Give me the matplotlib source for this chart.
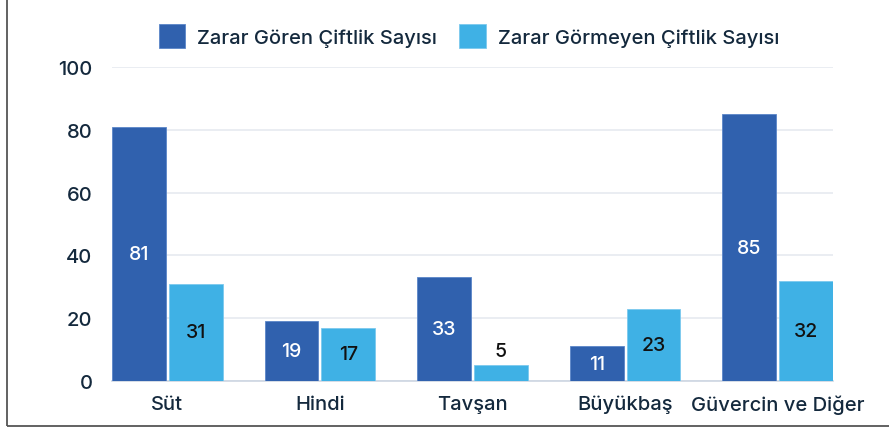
import matplotlib
matplotlib.use("Agg")
import matplotlib.pyplot as plt
from matplotlib.patches import Rectangle
import numpy as np

# data
categories = ["Süt", "Hindi", "Tavşan", "Büyükbaş", "Güvercin ve Diğer"]
zarar_goren = [81, 19, 33, 11, 85]
zarar_gormeyen = [31, 17, 5, 23, 32]
series_names = ["Zarar Gören Çiftlik Sayısı", "Zarar Görmeyen Çiftlik Sayısı"]

plt.rcParams['font.family'] = ['Inter', 'DejaVu Sans']
plt.rcParams['font.weight'] = 'medium'
dark = '#3061ae'
light = '#3fb1e5'
txt = '#14293d'

fig = plt.figure(figsize=(8.89, 4.31), dpi=100)
fig.patches.append(Rectangle((7 / 889, 4 / 431), 1.0, 1.0, transform=fig.transFigure,
                             fill=False, edgecolor='#555555', linewidth=1.3))
ax = fig.add_axes([112 / 889, 49 / 431, 721 / 889, 314 / 431])

x = np.arange(len(categories))
w = 0.353
off = 0.186
b1 = ax.bar(x - off, zarar_goren, w, color=dark, edgecolor='#5b86c8', linewidth=0.6,
            label=series_names[0], zorder=3)
b2 = ax.bar(x + off, zarar_gormeyen, w, color=light, edgecolor='#7cc9ee', linewidth=0.6,
            label=series_names[1], zorder=3)

for bars, vals, col in [(b1, zarar_goren, 'white'), (b2, zarar_gormeyen, '#111111')]:
    for r, v in zip(bars, vals):
        cx = r.get_x() + r.get_width() / 2
        if v < 8:
            ax.text(cx, v + 4.5, str(v), ha='center', va='center', color=col, fontsize=14, zorder=4)
        else:
            ax.text(cx, v / 2, str(v), ha='center', va='center', color=col, fontsize=14, zorder=4)

ax.set_xlim(-off - w / 2, len(categories) - 1 + off + w / 2)
ax.set_ylim(0, 100)
ax.set_yticks(range(0, 101, 20))
ax.set_xticks(x)
ax.set_xticklabels(categories)
ax.tick_params(axis='both', length=0, labelsize=14.5, colors=txt)
ax.tick_params(axis='y', pad=14)
ax.tick_params(axis='x', pad=10)
ax.grid(axis='y', color='#e6eaf0', linewidth=1.2, zorder=0)
for s in ['top', 'right', 'left']:
    ax.spines[s].set_visible(False)
ax.spines['bottom'].set_color('#cdd6e2')
ax.spines['bottom'].set_linewidth(1.2)
ax.spines['bottom'].set_zorder(2)

fig.legend(loc='center', bbox_to_anchor=(469 / 889, 1 - 37 / 431), ncol=2, frameon=False,
           fontsize=14.5, labelcolor=txt, handlelength=1.3, handleheight=1.4,
           handletextpad=0.6, columnspacing=1.1)

fig.savefig("out.png", dpi=100, facecolor='white')
